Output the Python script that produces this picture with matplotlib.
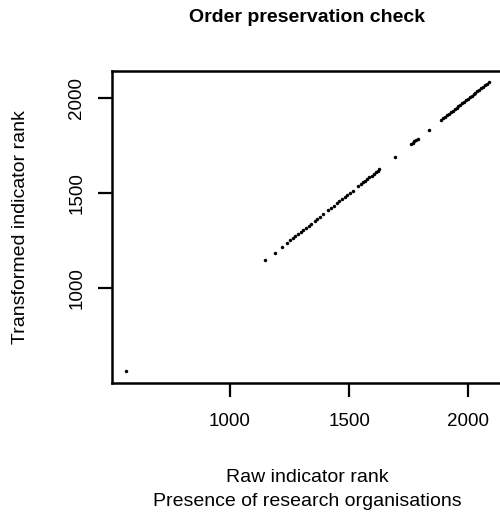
import numpy as np
import matplotlib
matplotlib.use("Agg")
import matplotlib.pyplot as plt

plt.rcParams['font.family'] = ['Liberation Sans', 'DejaVu Sans']

# ranks (raw rank == transformed rank, order preserved)
raw_rank = [564,
            1148, 1187, 1220,
            1240, 1252, 1263, 1274, 1285, 1296, 1308, 1318, 1330, 1340,
            1355, 1366, 1378, 1390,
            1412, 1424, 1436, 1447, 1458, 1470, 1481, 1492, 1503, 1515,
            1537, 1548, 1558, 1567, 1576, 1585, 1594, 1603, 1611, 1619, 1627,
            1691,
            1758, 1766, 1774, 1782, 1788,
            1836,
            1887, 1895, 1903, 1911, 1919, 1927, 1935, 1943, 1951, 1958, 1966,
            1974, 1982, 1990, 1998, 2006, 2014, 2022, 2030, 2038, 2046, 2054,
            2062, 2070, 2078, 2085]
trans_rank = list(raw_rank)

xticks = [1000, 1500, 2000]
yticks = [1000, 1500, 2000]

fig = plt.figure(figsize=(5, 5.2), dpi=100)
ax = fig.add_axes([111.7/500, 1 - 382.7/520, (503 - 111.7)/500, (382.7 - 70.7)/520])

ax.plot(raw_rank, trans_rank, 'o', color='black', ms=2.5, mew=0)

lo = min(raw_rank); hi = max(raw_rank)
pad = (hi - lo) * 0.04
ax.set_xlim(lo - pad, hi + pad)
lo = min(trans_rank); hi = max(trans_rank)
pad = (hi - lo) * 0.04
ax.set_ylim(lo - pad, hi + pad)

ax.set_xticks(xticks)
ax.set_yticks(yticks)
ax.set_yticklabels([str(v) for v in yticks], rotation=90, va='center')
ax.tick_params(axis='both', length=10, width=1.6, labelsize=13.5, color='black')
ax.tick_params(axis='x', pad=12)
ax.tick_params(axis='y', pad=9)
for sp in ax.spines.values():
    sp.set_linewidth(1.8)

fig.text(307/500, 1 - 17/520, "Order preservation check", ha='center', va='center',
         fontsize=14, fontweight='bold')
fig.text(307/500, 1 - 477/520, "Raw indicator rank", ha='center', va='center', fontsize=14)
fig.text(307/500, 1 - 502/520, "Presence of research organisations", ha='center', va='center',
         fontsize=14)
fig.text(21/500, 1 - 226.7/520, "Transformed indicator rank", ha='center', va='center',
         rotation=90, fontsize=14)

fig.savefig("out.png", dpi=100)
